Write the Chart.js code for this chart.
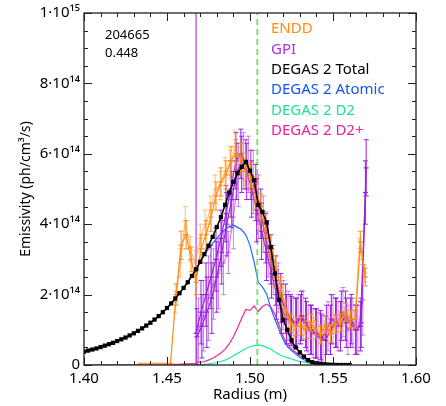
<!DOCTYPE html>
<html>
<head>
<meta charset="utf-8">
<script src="https://cdn.jsdelivr.net/npm/chart.js@4.4.0/dist/chart.umd.min.js"></script>
<style>
  html, body { margin: 0; padding: 0; background: #fff; }
  #wrap { width: 446px; height: 406px; }
</style>
</head>
<body>
<div id="wrap"><canvas id="c" width="446" height="406"></canvas></div>
<script>
// emissivity in units of 1e14 ph/cm^3/s, radius in m
const shot = '204665';
const shotTime = '0.448';
const separatrixR = 1.5044;

// DEGAS 2 grid (shared by Total, Atomic, D2, D2+)
const degasR = [
  1.4000, 1.4025, 1.4050, 1.4075, 1.4100, 1.4125, 1.4150, 1.4175, 1.4200, 1.4225,
  1.4250, 1.4275, 1.4300, 1.4325, 1.4350, 1.4375, 1.4400, 1.4425, 1.4450, 1.4475,
  1.4500, 1.4525, 1.4550, 1.4575, 1.4600, 1.4625, 1.4650, 1.4675, 1.4700, 1.4725,
  1.4750, 1.4775, 1.4800, 1.4825, 1.4850, 1.4875, 1.4900, 1.4925, 1.4950, 1.4975,
  1.5000, 1.5025, 1.5050, 1.5075, 1.5100, 1.5125, 1.5150, 1.5175, 1.5200, 1.5225,
  1.5250, 1.5275, 1.5300, 1.5325, 1.5350, 1.5375, 1.5400, 1.5425, 1.5450, 1.5475,
  1.5500, 1.5525, 1.5550, 1.5575, 1.5600
];
const degasTotal = [
  0.38, 0.41, 0.44, 0.47, 0.51, 0.55, 0.59, 0.63, 0.68, 0.73,
  0.78, 0.84, 0.90, 0.97, 1.04, 1.12, 1.20, 1.29, 1.39, 1.50,
  1.62, 1.75, 1.89, 2.04, 2.19, 2.35, 2.53, 2.72, 2.93, 3.15,
  3.39, 3.64, 3.92, 4.20, 4.55, 4.90, 5.20, 5.45, 5.63, 5.77,
  5.52, 5.25, 4.55, 4.35, 4.05, 3.35, 2.60, 1.85, 1.28, 1.00,
  0.70, 0.50, 0.36, 0.24, 0.14, 0.08, 0.05, 0.03, 0.02, 0.01,
  0.005, 0, 0, 0, 0
];
const degasAtomic = [
  0.38, 0.41, 0.44, 0.47, 0.51, 0.55, 0.59, 0.63, 0.68, 0.73,
  0.78, 0.84, 0.90, 0.97, 1.04, 1.12, 1.20, 1.29, 1.39, 1.50,
  1.62, 1.75, 1.89, 2.04, 2.19, 2.35, 2.53, 2.72, 2.93, 3.12,
  3.30, 3.46, 3.60, 3.74, 3.85, 3.94, 3.98, 3.91, 3.84, 3.70,
  3.40, 2.92, 2.35, 2.22, 2.02, 1.62, 1.30, 1.00, 0.72, 0.52,
  0.41, 0.31, 0.22, 0.15, 0.09, 0.05, 0.03, 0.02, 0.01, 0.005,
  0, 0, 0, 0, 0
];
const degasD2 = [
  0, 0, 0, 0, 0, 0, 0, 0, 0, 0,
  0, 0, 0, 0, 0, 0, 0, 0, 0, 0,
  0, 0, 0, 0, 0, 0, 0.005, 0.01, 0.01, 0.02,
  0.03, 0.05, 0.07, 0.10, 0.14, 0.19, 0.26, 0.33, 0.40, 0.47,
  0.52, 0.55, 0.57, 0.55, 0.50, 0.45, 0.37, 0.30, 0.25, 0.21,
  0.17, 0.13, 0.10, 0.08, 0.06, 0.04, 0.02, 0.01, 0.01, 0.005,
  0, 0, 0, 0, 0
];
const degasD2plus = [
  0, 0, 0, 0, 0, 0, 0, 0, 0, 0,
  0, 0, 0, 0, 0, 0, 0, 0, 0, 0.01,
  0.01, 0.01, 0.02, 0.02, 0.03, 0.03, 0.04, 0.05, 0.07, 0.10,
  0.14, 0.19, 0.26, 0.34, 0.45, 0.60, 0.80, 1.05, 1.33, 1.58,
  1.55, 1.68, 1.52, 1.66, 1.73, 1.64, 1.45, 1.12, 0.80, 0.58,
  0.45, 0.36, 0.27, 0.19, 0.12, 0.07, 0.03, 0.02, 0.01, 0.005,
  0, 0, 0, 0, 0
];

// ENDD, two time slices
const enddR1 = [
  1.4340, 1.4370, 1.4400, 1.4430, 1.4460, 1.4490, 1.4520, 1.4555, 1.4585, 1.4615,
  1.4645, 1.4675, 1.4705, 1.4735, 1.4765, 1.4795, 1.4825, 1.4855, 1.4885, 1.4915,
  1.4945, 1.4975, 1.5005, 1.5035, 1.5065, 1.5095, 1.5125, 1.5155, 1.5185, 1.5215,
  1.5245, 1.5275, 1.5305, 1.5335, 1.5365, 1.5395, 1.5425, 1.5455, 1.5485, 1.5515,
  1.5545, 1.5575, 1.5605, 1.5635, 1.5665, 1.5695
];
const enddE1 = [
  0, 0, 0, 0, 0, 0, 0, 2.00, 3.40, 3.70,
  3.00, 2.35, 3.30, 3.70, 4.20, 4.80, 5.20, 5.40, 5.80, 6.00,
  5.90, 5.65, 5.40, 5.00, 4.50, 4.00, 3.40, 2.80, 2.20, 1.60,
  1.20, 1.10, 1.10, 1.00, 1.20, 1.00, 0.85, 1.15, 0.90, 1.15,
  1.20, 1.50, 1.30, 1.30, 3.50, 2.50
];
const enddErr1 = [
  0.05, 0.05, 0.05, 0.05, 0.05, 0.05, 0.05, 0.30, 0.40, 0.40,
  0.35, 0.35, 0.40, 0.40, 0.40, 0.40, 0.40, 0.40, 0.40, 0.40,
  0.40, 0.40, 0.35, 0.35, 0.35, 0.35, 0.30, 0.30, 0.30, 0.25,
  0.25, 0.25, 0.25, 0.25, 0.25, 0.25, 0.25, 0.25, 0.25, 0.25,
  0.25, 0.25, 0.25, 0.25, 0.30, 0.25
];
const enddR2 = [
  1.4550, 1.4580, 1.4610, 1.4640, 1.4670, 1.4700, 1.4730, 1.4760, 1.4790, 1.4820,
  1.4850, 1.4880, 1.4910, 1.4940, 1.4970, 1.5000, 1.5030, 1.5060, 1.5090, 1.5120,
  1.5150, 1.5180, 1.5210, 1.5240, 1.5270, 1.5300, 1.5330, 1.5360, 1.5390, 1.5420,
  1.5450, 1.5480, 1.5510, 1.5540, 1.5570, 1.5600, 1.5630, 1.5660, 1.5690
];
const enddE2 = [
  1.80, 2.90, 4.10, 3.30, 2.90, 3.60, 4.00, 4.40, 5.00, 5.10,
  5.50, 5.70, 6.20, 5.80, 5.50, 5.30, 4.80, 4.20, 3.80, 3.10,
  2.50, 1.90, 1.50, 1.20, 1.00, 1.20, 1.10, 1.00, 1.10, 0.90,
  1.00, 1.10, 1.20, 1.30, 1.40, 1.20, 1.30, 3.30, 2.60
];
const enddErr2 = [
  0.30, 0.40, 0.40, 0.35, 0.35, 0.40, 0.40, 0.40, 0.40, 0.40,
  0.40, 0.40, 0.45, 0.40, 0.40, 0.35, 0.35, 0.35, 0.35, 0.30,
  0.30, 0.30, 0.25, 0.25, 0.25, 0.25, 0.25, 0.25, 0.25, 0.25,
  0.25, 0.25, 0.25, 0.25, 0.25, 0.25, 0.25, 0.30, 0.25
];

// GPI, three time slices
const gpiR1 = [
  1.4675, 1.4705, 1.4735, 1.4765, 1.4795, 1.4825, 1.4855, 1.4885, 1.4915, 1.4945,
  1.4975, 1.5005, 1.5035, 1.5065, 1.5095, 1.5125, 1.5155, 1.5185, 1.5215, 1.5245,
  1.5275, 1.5305, 1.5335, 1.5365, 1.5395, 1.5425, 1.5455, 1.5485, 1.5515, 1.5545,
  1.5575, 1.5605, 1.5635, 1.5665, 1.5695
];
const gpiE1 = [
  0.90, 1.50, 2.00, 2.50, 3.00, 3.60, 4.30, 5.00, 5.80, 6.00,
  5.70, 5.40, 4.90, 4.30, 3.60, 3.00, 2.40, 1.90, 1.60, 1.30,
  1.20, 1.30, 1.20, 1.00, 0.90, 0.85, 0.70, 1.00, 1.20, 1.10,
  1.40, 1.20, 1.00, 1.10, 4.90
];
const gpiErr1 = [
  13.0, 0.9, 0.9, 0.9, 0.9, 0.8, 0.8, 0.8, 0.8, 0.7,
  0.7, 0.7, 0.8, 0.7, 0.7, 0.7, 0.7, 0.7, 0.7, 0.7,
  0.7, 0.7, 0.7, 0.7, 0.7, 0.7, 0.7, 0.7, 0.7, 0.7,
  0.7, 0.7, 0.7, 0.7, 0.9
];
const gpiR2 = [
  1.4690, 1.4720, 1.4750, 1.4780, 1.4810, 1.4840, 1.4870, 1.4900, 1.4930, 1.4960,
  1.4990, 1.5020, 1.5050, 1.5080, 1.5110, 1.5140, 1.5170, 1.5200, 1.5230, 1.5260,
  1.5290, 1.5320, 1.5350, 1.5380, 1.5410, 1.5440, 1.5470, 1.5500, 1.5530, 1.5560,
  1.5590, 1.5620, 1.5650, 1.5680
];
const gpiE2 = [
  1.00, 1.40, 1.90, 2.30, 2.60, 2.90, 3.20, 4.20, 5.40, 5.80,
  5.70, 5.20, 4.50, 4.00, 3.30, 2.70, 2.20, 1.70, 1.40, 1.20,
  1.30, 1.40, 1.00, 0.90, 0.80, 0.70, 1.10, 1.30, 1.10, 1.50,
  1.00, 1.20, 1.00, 1.85
];
const gpiErr2 = [
  0.9, 1.0, 1.2, 1.0, 1.0, 0.9, 0.6, 0.9, 0.9, 0.8,
  0.8, 0.9, 0.9, 0.8, 0.8, 0.7, 0.7, 0.7, 0.7, 0.7,
  0.7, 0.7, 0.7, 0.7, 0.7, 0.7, 0.7, 0.7, 0.7, 0.7,
  0.7, 0.7, 0.7, 1.0
];
const gpiR3 = [
  1.4680, 1.4710, 1.4740, 1.4770, 1.4800, 1.4830, 1.4860, 1.4890, 1.4920, 1.4950,
  1.4980, 1.5010, 1.5040, 1.5070, 1.5100, 1.5130, 1.5160, 1.5190, 1.5220, 1.5250,
  1.5280, 1.5310, 1.5340, 1.5370, 1.5400, 1.5430, 1.5460, 1.5490, 1.5520, 1.5550,
  1.5580, 1.5610, 1.5640, 1.5670, 1.5700
];
const gpiE3 = [
  0.80, 1.10, 1.50, 1.90, 2.50, 3.20, 4.00, 4.70, 5.50, 5.70,
  5.50, 5.00, 4.40, 3.80, 3.20, 2.60, 2.00, 1.60, 1.30, 1.25,
  1.20, 1.40, 1.10, 1.00, 0.90, 0.75, 1.00, 1.30, 1.20, 1.40,
  1.20, 1.30, 1.00, 1.20, 5.60
];
const gpiErr3 = [
  0.8, 0.9, 1.0, 1.0, 1.0, 0.9, 0.9, 0.8, 0.8, 0.8,
  0.8, 0.8, 0.9, 0.8, 0.8, 0.7, 0.7, 0.7, 0.7, 0.7,
  0.7, 0.7, 0.7, 0.7, 0.7, 0.7, 0.7, 0.7, 0.7, 0.7,
  0.7, 0.7, 0.7, 0.7, 0.8
];

const legendLabels = ['ENDD', 'GPI', 'DEGAS 2 Total', 'DEGAS 2 Atomic', 'DEGAS 2 D2', 'DEGAS 2 D2+'];

const cOrange = '#FF8A14';
const cOrangeLt = 'rgba(255,150,40,0.6)';
const cPurple = '#9B1FDB';
const cPurpleLt = 'rgba(165,50,235,0.6)';
const cBlack = '#000000';
const cBlue = '#1F6BFF';
const cD2 = '#22E6A6';
const cD2plus = '#F2259C';
const cSep = '#74E35E';
const legendColors = [cOrange, '#B02EEB', cBlack, '#1455F5', '#1EDFA0', '#EE1F9A'];

const pts = (xs, ys) => xs.map((x, i) => ({ x: x, y: ys[i] }));

// error bars drawn under each series that has them
const errorBars = {
  id: 'errorBars',
  beforeDatasetDraw(chart, args) {
    const ds = chart.data.datasets[args.index];
    if (!ds.errors) return;
    const { ctx, chartArea: a, scales: { x, y } } = chart;
    ctx.save();
    ctx.beginPath();
    ctx.rect(a.left, a.top, a.right - a.left, a.bottom - a.top);
    ctx.clip();
    ctx.strokeStyle = ds.borderColor;
    ctx.lineWidth = 1;
    ds.data.forEach((p, i) => {
      const e = ds.errors[i];
      const px = x.getPixelForValue(p.x);
      const y1 = y.getPixelForValue(p.y - e);
      const y2 = y.getPixelForValue(p.y + e);
      ctx.beginPath();
      ctx.moveTo(px, y1); ctx.lineTo(px, y2);
      ctx.moveTo(px - 2.5, y1); ctx.lineTo(px + 2.5, y1);
      ctx.moveTo(px - 2.5, y2); ctx.lineTo(px + 2.5, y2);
      ctx.stroke();
    });
    ctx.restore();
  }
};

// frame, inward ticks on all sides, legend text and shot label
const decor = {
  id: 'decor',
  afterDraw(chart) {
    const { ctx, chartArea: a, scales: { x, y } } = chart;
    ctx.save();
    ctx.strokeStyle = '#222';
    ctx.lineWidth = 1;
    ctx.beginPath();
    for (let i = 0; i <= 20; i++) {
      const px = Math.round(x.getPixelForValue(1.40 + i * 0.01)) + 0.5;
      const len = i % 5 === 0 ? 8 : 4;
      ctx.moveTo(px, a.bottom); ctx.lineTo(px, a.bottom - len);
      ctx.moveTo(px, a.top); ctx.lineTo(px, a.top + len);
    }
    for (let i = 0; i <= 20; i++) {
      const py = Math.round(y.getPixelForValue(i * 0.5)) + 0.5;
      const len = i % 4 === 0 ? 8 : 4;
      ctx.moveTo(a.left, py); ctx.lineTo(a.left + len, py);
      ctx.moveTo(a.right, py); ctx.lineTo(a.right - len, py);
    }
    ctx.stroke();
    ctx.lineWidth = 1.3;
    ctx.strokeRect(a.left, a.top, a.right - a.left, a.bottom - a.top);

    ctx.textBaseline = 'middle';
    ctx.textAlign = 'left';
    ctx.font = '15px "Noto Sans"';
    legendLabels.forEach((t, i) => {
      ctx.fillStyle = legendColors[i];
      ctx.fillText(t, 271, 29 + i * 20.4);
    });
    ctx.fillStyle = '#000';
    ctx.font = '13px "Noto Sans"';
    ctx.fillText(shot, 105, 35);
    ctx.fillText(shotTime, 105, 53);
    ctx.restore();
  }
};

Chart.defaults.font.family = '"Noto Sans", sans-serif';
Chart.defaults.color = '#000';

const errDs = (label, xs, ys, errs, color) => ({
  label: label, data: pts(xs, ys), errors: errs,
  borderColor: color, backgroundColor: color, borderWidth: 1.2,
  pointStyle: 'line', pointRadius: 2.5, pointBorderWidth: 1.2, tension: 0
});

new Chart(document.getElementById('c'), {
  type: 'line',
  data: {
    datasets: [
      { label: 'DEGAS 2 Total', data: pts(degasR, degasTotal), borderColor: cBlack, backgroundColor: cBlack,
        borderWidth: 1.5, pointStyle: 'rect', pointRadius: 3, pointBorderWidth: 0 },
      errDs('ENDD', enddR1, enddE1, enddErr1, cOrange),
      errDs('ENDD', enddR2, enddE2, enddErr2, cOrangeLt),
      errDs('GPI', gpiR1, gpiE1, gpiErr1, cPurple),
      errDs('GPI', gpiR2, gpiE2, gpiErr2, cPurpleLt),
      errDs('GPI', gpiR3, gpiE3, gpiErr3, cPurple),
      { label: 'separatrix', data: [{ x: separatrixR, y: 0 }, { x: separatrixR, y: 10 }],
        borderColor: cSep, borderWidth: 1.8, borderDash: [6, 4], pointRadius: 0 },
      { label: 'DEGAS 2 Atomic', data: pts(degasR, degasAtomic), borderColor: cBlue, borderWidth: 1.2, pointRadius: 0 },
      { label: 'DEGAS 2 D2+', data: pts(degasR, degasD2plus), borderColor: cD2plus, borderWidth: 1.2, pointRadius: 0 },
      { label: 'DEGAS 2 D2', data: pts(degasR, degasD2), borderColor: cD2, borderWidth: 1.2, pointRadius: 0 }
    ]
  },
  options: {
    responsive: false,
    animation: false,
    layout: { padding: { top: 13, right: 30, left: 0, bottom: 0 } },
    plugins: { legend: { display: false }, tooltip: { enabled: false } },
    scales: {
      x: {
        type: 'linear', min: 1.40, max: 1.60,
        grid: { display: false, drawTicks: false },
        border: { display: false },
        ticks: { stepSize: 0.05, padding: 5, font: { size: 15 }, maxRotation: 0,
          callback: v => v.toFixed(2) },
        title: { display: true, text: 'Radius (m)', font: { size: 15 }, padding: { top: 0, bottom: 2 } },
        afterFit: s => { s.height = 41; }
      },
      y: {
        type: 'linear', min: 0, max: 10,
        grid: { display: false, drawTicks: false },
        border: { display: false },
        ticks: { stepSize: 2, padding: 4, font: { size: 15 },
          callback: v => v === 0 ? '0' : (v === 10 ? '1·10¹⁵' : v + '·10¹⁴') },
        title: { display: true, text: 'Emissivity (ph/cm³/s)', font: { size: 14 }, padding: { top: 18, bottom: 0 } },
        afterFit: s => { s.width = 84; }
      }
    }
  },
  plugins: [errorBars, decor]
});
</script>
</body>
</html>
